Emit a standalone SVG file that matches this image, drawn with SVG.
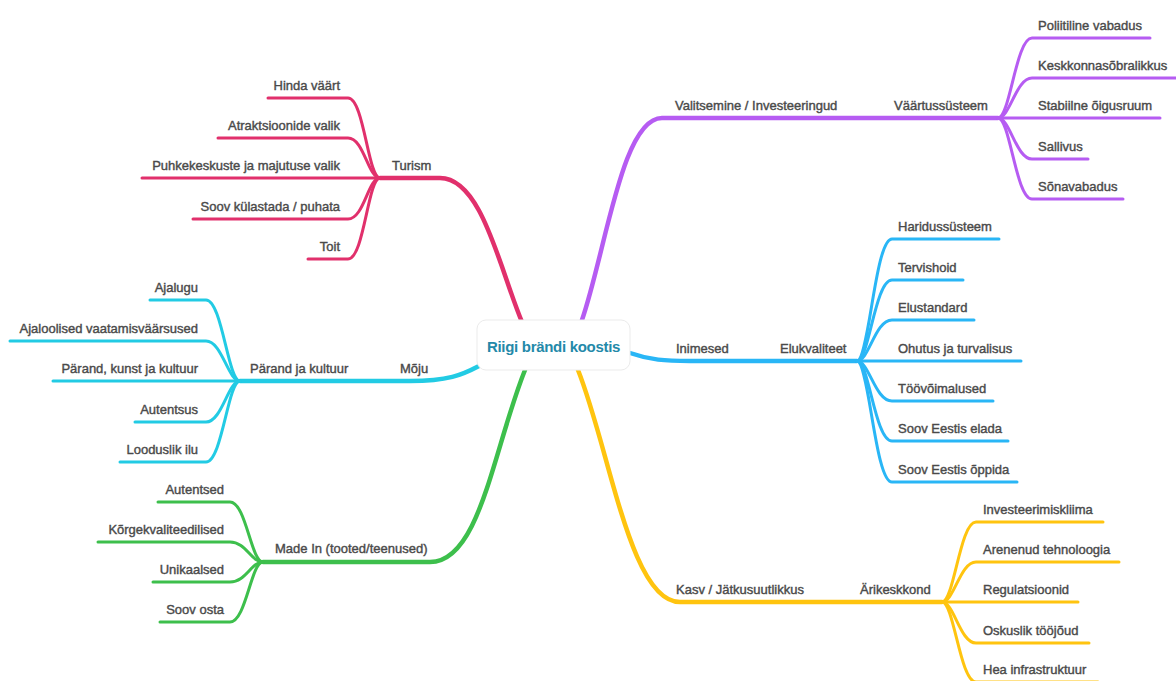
<svg xmlns="http://www.w3.org/2000/svg" width="1176" height="681" viewBox="0 0 1176 681">
<style>
  .t{font-family:"Liberation Sans",Arial,sans-serif;font-size:13px;fill:#4a4a4a;stroke:#4a4a4a;stroke-width:0.4}
  .e{text-anchor:end}
  .c{fill:none;stroke-linecap:round;stroke-linejoin:round}
  .m{stroke-width:4.5}
  .k{stroke-width:3}
  .pink{stroke:#e1306c}
  .purple{stroke:#b65cf2}
  .blue{stroke:#29b6f6}
  .yellow{stroke:#ffc40f}
  .green{stroke:#3dbf4c}
  .cyan{stroke:#22cbe4}
</style>
<rect width="1176" height="681" fill="#ffffff"/>
<g id="connectors">
  <!-- main branches -->
  <path class="c m pink" d="M522,322 C500,270 482,178 440,178 L380,178"/>
  <path class="c m purple" d="M582,320 C606,250 622,118 662,118 L998,118"/>
  <path class="c m blue" d="M630,353 C650,360 665,361 690,361 L857,361"/>
  <path class="c m yellow" d="M578,370 C610,450 630,602 680,602 L942,602"/>
  <path class="c m green" d="M525,370 C493,450 480,562 430,562 L263,562"/>
  <path class="c m cyan" d="M479,366 C462,375 448,381 410,381 L240,381"/>
  <!-- Turism children -->
  <path class="c k pink" d="M380,178 C368,178 364,98 348,98 L268,98"/>
  <path class="c k pink" d="M380,178 C368,178 364,138 348,138 L218,138"/>
  <path class="c k pink" d="M380,178 L142,178"/>
  <path class="c k pink" d="M380,178 C368,178 364,219 348,219 L193,219"/>
  <path class="c k pink" d="M380,178 C368,178 364,259 348,259 L308,259"/>
  <!-- Pärand children -->
  <path class="c k cyan" d="M240,381 C228,381 222,300 206,300 L150,300"/>
  <path class="c k cyan" d="M240,381 C228,381 222,341 206,341 L10,341"/>
  <path class="c k cyan" d="M240,381 L53,381"/>
  <path class="c k cyan" d="M240,381 C228,381 222,422 206,422 L135,422"/>
  <path class="c k cyan" d="M240,381 C228,381 222,462 206,462 L120,462"/>
  <!-- Made In children -->
  <path class="c k green" d="M263,562 C251,562 246,502 230,502 L158,502"/>
  <path class="c k green" d="M263,562 C251,562 246,542 230,542 L98,542"/>
  <path class="c k green" d="M263,562 C251,562 246,582 230,582 L153,582"/>
  <path class="c k green" d="M263,562 C251,562 246,622 230,622 L160,622"/>
  <!-- Väärtussüsteem children -->
  <path class="c k purple" d="M998,118 C1010,118 1016,38 1032,38 L1150,38"/>
  <path class="c k purple" d="M998,118 C1010,118 1016,78 1032,78 L1178,78"/>
  <path class="c k purple" d="M998,118 L1160,118"/>
  <path class="c k purple" d="M998,118 C1010,118 1016,159 1032,159 L1088,159"/>
  <path class="c k purple" d="M998,118 C1010,118 1016,199 1032,199 L1123,199"/>
  <!-- Elukvaliteet children -->
  <path class="c k blue" d="M857,361 C869,361 875,239 892,239 L999,239"/>
  <path class="c k blue" d="M857,361 C869,361 875,280 892,280 L963,280"/>
  <path class="c k blue" d="M857,361 C869,361 875,320 892,320 L974,320"/>
  <path class="c k blue" d="M857,361 L1021,361"/>
  <path class="c k blue" d="M857,361 C869,361 875,401 892,401 L993,401"/>
  <path class="c k blue" d="M857,361 C869,361 875,441 892,441 L1008,441"/>
  <path class="c k blue" d="M857,361 C869,361 875,482 892,482 L1017,482"/>
  <!-- Ärikeskkond children -->
  <path class="c k yellow" d="M942,602 C954,602 960,522 976,522 L1103,522"/>
  <path class="c k yellow" d="M942,602 C954,602 960,562 976,562 L1119,562"/>
  <path class="c k yellow" d="M942,602 L1078,602"/>
  <path class="c k yellow" d="M942,602 C954,602 960,643 976,643 L1089,643"/>
  <path class="c k yellow" d="M942,602 C954,602 960,682 976,682 L1098,682"/>
</g>
<g id="center">
  <rect x="477" y="320" width="153" height="50" rx="9" fill="#ffffff" stroke="#ebebeb" stroke-width="1"/>
  <text x="553.5" y="352" text-anchor="middle" style="font-family:'Liberation Sans',Arial,sans-serif;font-size:15px;font-weight:bold;letter-spacing:-0.3px;fill:#2389a9">Riigi brändi koostis</text>
</g>
<g id="turism">
  <text class="t" x="392" y="170">Turism</text>
  <g id="turism-children">
    <text class="t e" x="340" y="90">Hinda väärt</text>
    <text class="t e" x="340" y="130">Atraktsioonide valik</text>
    <text class="t e" x="340" y="170">Puhkekeskuste ja majutuse valik</text>
    <text class="t e" x="340" y="211">Soov külastada / puhata</text>
    <text class="t e" x="340" y="251">Toit</text>
  </g>
</g>
<g id="moju">
  <text class="t" x="400" y="373">Mõju</text>
</g>
<g id="parand">
  <text class="t" x="250" y="373">Pärand ja kultuur</text>
  <g id="parand-children">
    <text class="t e" x="198" y="292">Ajalugu</text>
    <text class="t e" x="198" y="333">Ajaloolised vaatamisväärsused</text>
    <text class="t e" x="198" y="373">Pärand, kunst ja kultuur</text>
    <text class="t e" x="198" y="414">Autentsus</text>
    <text class="t e" x="198" y="454">Looduslik ilu</text>
  </g>
</g>
<g id="madein">
  <text class="t" x="275" y="553">Made In (tooted/teenused)</text>
  <g id="madein-children">
    <text class="t e" x="224" y="494">Autentsed</text>
    <text class="t e" x="224" y="534">Kõrgekvaliteedilised</text>
    <text class="t e" x="224" y="574">Unikaalsed</text>
    <text class="t e" x="224" y="614">Soov osta</text>
  </g>
</g>
<g id="valitsemine">
  <text class="t" x="675" y="110">Valitsemine / Investeeringud</text>
</g>
<g id="vaartussusteem">
  <text class="t" x="894" y="110">Väärtussüsteem</text>
  <g id="vaartussusteem-children">
    <text class="t" x="1038" y="30">Poliitiline vabadus</text>
    <text class="t" x="1038" y="70">Keskkonnasõbralikkus</text>
    <text class="t" x="1038" y="110">Stabiilne õigusruum</text>
    <text class="t" x="1038" y="151">Sallivus</text>
    <text class="t" x="1038" y="191">Sõnavabadus</text>
  </g>
</g>
<g id="inimesed">
  <text class="t" x="676" y="353">Inimesed</text>
</g>
<g id="elukvaliteet">
  <text class="t" x="780" y="353">Elukvaliteet</text>
  <g id="elukvaliteet-children">
    <text class="t" x="898" y="231">Haridussüsteem</text>
    <text class="t" x="898" y="272">Tervishoid</text>
    <text class="t" x="898" y="312">Elustandard</text>
    <text class="t" x="898" y="353">Ohutus ja turvalisus</text>
    <text class="t" x="898" y="393">Töövõimalused</text>
    <text class="t" x="898" y="433">Soov Eestis elada</text>
    <text class="t" x="898" y="474">Soov Eestis õppida</text>
  </g>
</g>
<g id="kasv">
  <text class="t" x="676" y="594">Kasv / Jätkusuutlikkus</text>
</g>
<g id="arikeskkond">
  <text class="t" x="860" y="594">Ärikeskkond</text>
  <g id="arikeskkond-children">
    <text class="t" x="983" y="514">Investeerimiskliima</text>
    <text class="t" x="983" y="554">Arenenud tehnoloogia</text>
    <text class="t" x="983" y="594">Regulatsioonid</text>
    <text class="t" x="983" y="635">Oskuslik tööjõud</text>
    <text class="t" x="983" y="674">Hea infrastruktuur</text>
  </g>
</g>
</svg>
